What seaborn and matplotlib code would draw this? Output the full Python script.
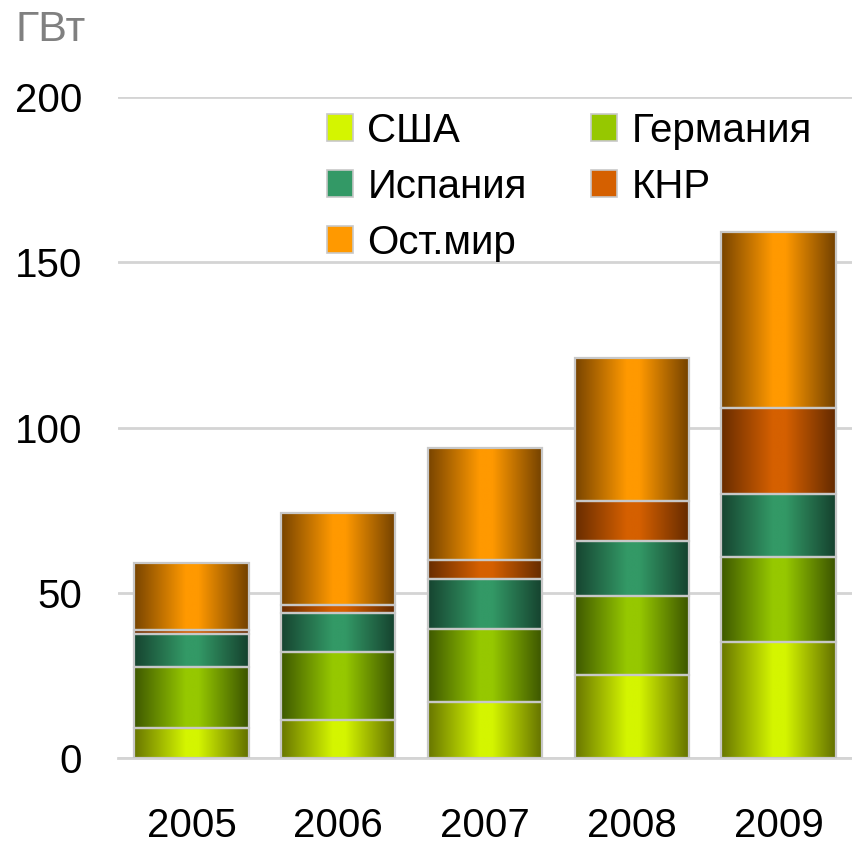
import numpy as np
import pandas as pd
import matplotlib
matplotlib.use("Agg")
import matplotlib.pyplot as plt
import seaborn as sns
from matplotlib.colors import to_rgb
from matplotlib.patches import Patch

years = ["2005", "2006", "2007", "2008", "2009"]
series_names = ["США", "Германия", "Испания", "КНР", "Ост.мир"]
usa = [9.1, 11.6, 16.8, 25.2, 35.1]
germany = [18.4, 20.6, 22.2, 23.9, 25.8]
spain = [10.0, 11.6, 15.1, 16.7, 19.1]
china = [1.3, 2.6, 5.9, 12.0, 25.8]
rest = [20.3, 27.7, 33.9, 43.4, 53.4]
y_ticks = [0, 50, 100, 150, 200]

center_colors = ["#d4f500", "#96c800", "#339966", "#d56000", "#ff9900"]
edge_colors = ["#687600", "#3e5800", "#164430", "#682c00", "#784400"]

sns.set_theme(style="white")
plt.rcParams["font.family"] = ["Liberation Sans", "DejaVu Sans"]

fig = plt.figure(figsize=(8.52, 8.44), dpi=100)
ax = fig.add_axes([0.1385, 0.1019, 0.8615, 0.783])

values = [usa, germany, spain, china, rest]
bottom = np.zeros(len(years))
layer_patches = []
for name, vals, cc in zip(series_names, values, center_colors):
    df = pd.DataFrame({"year": years, "value": vals})
    n_before = len(ax.patches)
    sns.barplot(data=df, x="year", y="value", bottom=bottom, color=cc,
                width=0.78, edgecolor="#c8c8c8", linewidth=1.6,
                saturation=1, ax=ax, zorder=3)
    layer_patches.append(ax.patches[n_before:])
    bottom = bottom + np.array(vals)

def gradient(c_edge, c_center, n=256):
    e = np.array(to_rgb(c_edge))
    c = np.array(to_rgb(c_center))
    pos = np.linspace(0, 1, n)
    xs = [0.0, 0.45, 0.56, 1.0]
    out = np.zeros((1, n, 3))
    e_right = e * 0.95
    for k in range(3):
        out[0, :, k] = np.interp(pos, xs, [e[k], c[k], c[k], e_right[k]])
    return out

for patches, ec, cc in zip(layer_patches, edge_colors, center_colors):
    img = gradient(ec, cc)
    for p in patches:
        x0, y0 = p.get_x(), p.get_y()
        w, h = p.get_width(), p.get_height()
        im = ax.imshow(img, extent=[x0, x0 + w, y0, y0 + h], aspect="auto",
                       zorder=3.5, interpolation="bilinear", origin="lower")
        im.set_clip_path(p)
        p.set_facecolor("none")
        p.set_zorder(4)

ax.set_xlim(-0.5, 4.5)
ax.set_ylim(0, 200)
ax.set_yticks(y_ticks)
ax.set_xlabel("")
ax.set_ylabel("")
ax.grid(axis="y", color="#d4d4d4", linewidth=2, zorder=0)
ax.grid(axis="x", visible=False)
for s in ["left", "right", "top"]:
    ax.spines[s].set_visible(False)
ax.spines["bottom"].set_color("#d4d4d4")
ax.spines["bottom"].set_linewidth(2)
ax.tick_params(axis="both", length=0, labelsize=29, colors="black")
ax.tick_params(axis="y", pad=26)
ax.tick_params(axis="x", pad=35)

handles = [Patch(facecolor=c, edgecolor="#c8c8c8", linewidth=1.2) for c in center_colors]
order = [0, 2, 4, 1, 3]
leg = ax.legend([handles[i] for i in order], [series_names[i] for i in order],
                ncol=2, loc="upper left", bbox_to_anchor=(0.285, 0.978),
                borderaxespad=0, borderpad=0, labelcolor="black",
                frameon=False, fontsize=29, handlelength=0.65, handleheight=0.65,
                handletextpad=0.35, columnspacing=1.6, labelspacing=0.45)

fig.text(0.018, 0.965, "ГВт", fontsize=31, color="#808080", va="center", ha="left")

fig.savefig("out.png", dpi=100)
